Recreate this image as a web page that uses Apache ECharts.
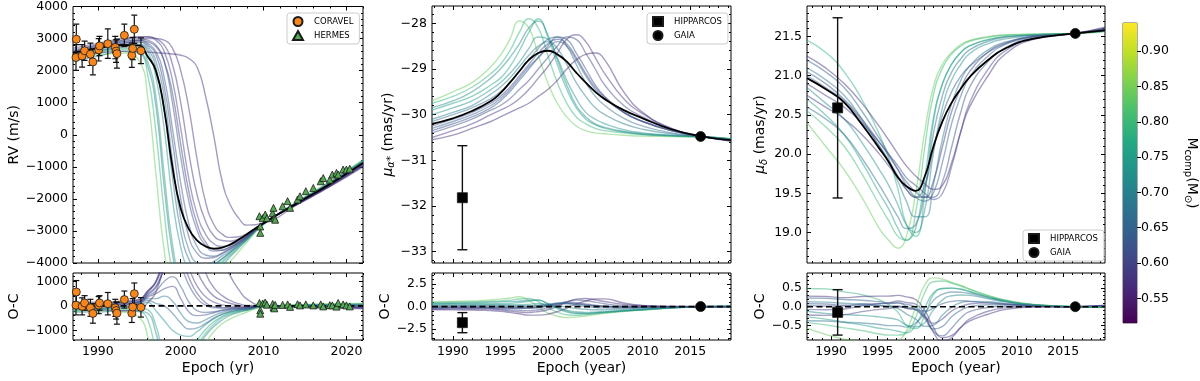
<!DOCTYPE html>
<html>
<head>
<meta charset="utf-8">
<title>RV and proper motion orbit fit</title>
<script src="https://cdn.jsdelivr.net/npm/echarts@6/dist/echarts.min.js"></script>
<style>
  html, body { margin: 0; background: #fff; }
  #chart { width: 1200px; height: 381px; }
</style>
</head>
<body>
<div id="chart"></div>
<script>
const FONT = "DejaVu Sans";

// ---- colour scale of companion mass
const MASS_MIN = 0.515;
const MASS_MAX = 0.94;
const CB_TICKS = [0.55, 0.6, 0.65, 0.7, 0.75, 0.8, 0.85, 0.9];

// ---- radial velocity panel
const RV_EPOCHS = [1987, 1990, 1993, 1995, 1996, 1997, 1998, 1999, 2000, 2001, 2002, 2003, 2004, 2005, 2006, 2007, 2008, 2010, 2014, 2018, 2022];
const RV_BEST = [2550, 2700, 2800, 2780, 2450, 2000, 800, -1000, -2300, -2950, -3300, -3480, -3550, -3520, -3420, -3270, -3100, -2760, -2140, -1540, -880];
const RV_MASS = [0.84, 0.79, 0.76, 0.73, 0.70, 0.68, 0.66, 0.64, 0.62, 0.61, 0.60, 0.59, 0.58, 0.57, 0.58];
const RV_MODELS = [
  [2350, 2500, 2550, 2300, 1200, -1200, -3600, -4900, -5500, -5600, -5400, -5000, -4600, -4250, -3950, -3650, -3350, -2800, -2100, -1450, -780],
  [2400, 2550, 2650, 2550, 1900, 100, -2400, -4300, -5000, -5100, -4900, -4600, -4300, -4000, -3750, -3500, -3280, -2790, -2110, -1480, -800],
  [2350, 2550, 2700, 2700, 2300, 1200, -1200, -3400, -4500, -4800, -4700, -4450, -4200, -3950, -3700, -3480, -3260, -2780, -2120, -1500, -820],
  [2450, 2600, 2750, 2800, 2600, 1800, 200, -2000, -3500, -4200, -4350, -4250, -4080, -3870, -3660, -3450, -3240, -2770, -2130, -1510, -840],
  [2300, 2450, 2600, 2550, 2150, 900, -1600, -3700, -4800, -5100, -5000, -4700, -4400, -4100, -3800, -3540, -3280, -2780, -2110, -1490, -810],
  [2500, 2650, 2800, 2880, 2750, 2300, 1200, -800, -2600, -3600, -4000, -4050, -3950, -3780, -3600, -3410, -3210, -2760, -2140, -1530, -860],
  [2400, 2600, 2750, 2820, 2680, 2100, 800, -1300, -3000, -3900, -4200, -4200, -4050, -3860, -3650, -3440, -3230, -2770, -2130, -1520, -850],
  [2600, 2750, 2900, 2950, 2850, 2600, 1800, 200, -1500, -2800, -3500, -3750, -3790, -3690, -3540, -3370, -3180, -2760, -2150, -1550, -890],
  [2650, 2800, 2950, 3000, 2950, 2800, 2300, 1000, -700, -2100, -3000, -3450, -3630, -3600, -3490, -3340, -3160, -2750, -2160, -1570, -920],
  [2550, 2700, 2850, 2900, 2800, 2500, 1500, -200, -2000, -3200, -3700, -3850, -3830, -3710, -3560, -3390, -3200, -2760, -2150, -1560, -900],
  [2600, 2800, 2950, 3050, 3050, 2950, 2600, 1700, 200, -1400, -2500, -3100, -3400, -3480, -3430, -3310, -3150, -2750, -2170, -1590, -950],
  [2600, 2750, 2900, 2950, 2900, 2750, 2300, 1300, -300, -1800, -2800, -3350, -3580, -3600, -3500, -3350, -3170, -2750, -2160, -1580, -930],
  [2700, 2850, 3000, 3050, 3060, 3000, 2800, 2200, 1000, -600, -1900, -2700, -3150, -3300, -3320, -3250, -3120, -2750, -2180, -1600, -970],
  [2500, 2550, 2600, 2600, 2580, 2560, 2540, 2520, 2480, 2380, 2100, 1200, -50, -1450, -2200, -2600, -2820, -2760, -2190, -1620, -1000],
  [2550, 2700, 2850, 2950, 3000, 3000, 2950, 2700, 2000, 800, -800, -2100, -2800, -3100, -3200, -3180, -3080, -2750, -2170, -1600, -960]
];
const CORAVEL_EPOCH = [1987.36, 1987.4, 1988.1, 1988.4, 1989.1, 1989.4, 1990.1, 1990.2, 1991.2, 1992.1, 1992.2, 1992.3, 1993.2, 1994.1, 1994.2, 1994.4, 1995.2];
const CORAVEL_RV = [2410, 2980, 2460, 2620, 2510, 2270, 2650, 2770, 2840, 2720, 2610, 2530, 3100, 2480, 2690, 3290, 2620];
const CORAVEL_ERR = [400, 470, 350, 300, 350, 400, 350, 300, 460, 350, 350, 450, 350, 380, 350, 440, 400];
const CORAVEL_OC = [30, 570, -20, 120, -80, -310, 30, 120, 90, -80, -190, -300, 260, -300, -50, 500, -60];
const HERMES_EPOCH = [2009.5, 2009.6, 2009.6, 2009.9, 2010.2, 2010.4, 2011.1, 2011.2, 2011.3, 2011.4, 2012.3, 2012.9, 2013.2, 2014.1, 2014.4, 2015.1, 2016.0, 2016.9, 2017.2, 2018.0, 2018.3, 2018.8, 2019.0, 2019.6, 2020.0, 2020.4];
const HERMES_RV = [-2540, -2860, -3060, -2600, -2490, -2600, -2440, -2280, -2600, -2650, -2230, -2070, -2280, -2020, -1920, -1760, -1660, -1450, -1350, -1400, -1240, -1190, -1240, -1085, -1085, -1060];
const HERMES_OC = [120, -180, -320, 100, 140, 50, 80, -60, -100, 40, 40, 60, -40, 70, 20, 60, 20, 60, -20, 30, 20, -30, 120, 60, 20, -20];

// ---- proper motion in right ascension
const PMRA_EPOCHS = [1987.8, 1990, 1992, 1994, 1995, 1996, 1997, 1998, 1999, 2000, 2001, 2002, 2003, 2004, 2005, 2006, 2008, 2010, 2013, 2016, 2019.3];
const PMRA_BEST = [-30.2, -30.08, -29.92, -29.7, -29.53, -29.3, -29.05, -28.8, -28.65, -28.6, -28.68, -28.84, -29.08, -29.3, -29.5, -29.66, -29.9, -30.08, -30.32, -30.47, -30.56];
const PMRA_MASS = [0.84, 0.79, 0.76, 0.73, 0.69, 0.65, 0.61, 0.58, 0.57, 0.62, 0.71, 0.60, 0.67];
const PMRA_MODELS = [
  [-29.7, -29.5, -29.3, -28.95, -28.7, -28.35, -27.95, -28.1, -28.7, -29.3, -29.75, -30.05, -30.25, -30.35, -30.4, -30.42, -30.45, -30.47, -30.48, -30.49, -30.52],
  [-29.75, -29.6, -29.4, -29.1, -28.9, -28.6, -28.2, -27.9, -28.1, -28.7, -29.3, -29.75, -30.05, -30.2, -30.3, -30.35, -30.4, -30.44, -30.47, -30.49, -30.53],
  [-29.9, -29.75, -29.6, -29.35, -29.2, -28.95, -28.6, -28.2, -27.9, -28.3, -28.9, -29.45, -29.85, -30.1, -30.22, -30.3, -30.38, -30.43, -30.46, -30.48, -30.53],
  [-30.0, -29.85, -29.7, -29.45, -29.3, -29.1, -28.85, -28.55, -28.3, -28.35, -28.75, -29.25, -29.65, -29.95, -30.1, -30.2, -30.33, -30.4, -30.45, -30.48, -30.54],
  [-30.1, -29.95, -29.8, -29.55, -29.4, -29.2, -28.95, -28.7, -28.5, -28.4, -28.55, -28.9, -29.3, -29.6, -29.85, -30.0, -30.2, -30.32, -30.42, -30.48, -30.55],
  [-30.3, -30.15, -30.0, -29.8, -29.65, -29.45, -29.2, -28.95, -28.75, -28.55, -28.4, -28.5, -28.8, -29.15, -29.45, -29.65, -29.95, -30.15, -30.35, -30.47, -30.56],
  [-30.4, -30.25, -30.1, -29.9, -29.8, -29.65, -29.45, -29.25, -29.0, -28.75, -28.5, -28.3, -28.35, -28.65, -29.0, -29.35, -29.8, -30.05, -30.32, -30.47, -30.57],
  [-30.5, -30.35, -30.2, -30.0, -29.9, -29.8, -29.65, -29.45, -29.2, -28.95, -28.65, -28.35, -28.25, -28.4, -28.75, -29.1, -29.65, -29.98, -30.3, -30.46, -30.58],
  [-30.55, -30.45, -30.3, -30.15, -30.05, -29.95, -29.85, -29.75, -29.6, -29.45, -29.25, -29.0, -28.8, -28.68, -28.65, -28.8, -29.5, -29.95, -30.3, -30.47, -30.58],
  [-30.35, -30.2, -30.05, -29.85, -29.7, -29.5, -29.25, -29.0, -28.75, -28.5, -28.3, -28.35, -28.65, -29.0, -29.35, -29.6, -29.95, -30.15, -30.35, -30.47, -30.56],
  [-29.85, -29.7, -29.5, -29.2, -29.0, -28.75, -28.45, -28.1, -27.95, -28.25, -28.8, -29.35, -29.8, -30.05, -30.2, -30.28, -30.37, -30.42, -30.46, -30.48, -30.53],
  [-30.25, -30.1, -29.95, -29.75, -29.6, -29.4, -29.15, -28.9, -28.65, -28.45, -28.35, -28.45, -28.75, -29.1, -29.4, -29.62, -29.95, -30.15, -30.35, -30.47, -30.57],
  [-30.15, -30.0, -29.85, -29.65, -29.5, -29.3, -29.05, -28.8, -28.55, -28.35, -28.3, -28.5, -28.9, -29.3, -29.6, -29.8, -30.08, -30.25, -30.4, -30.48, -30.55]
];
const PMRA_HIP = [1991.0, -31.82, 1.14];
const PMRA_HIP_OC = [1991.0, -1.79, 1.12];
const PMRA_GAIA = [2016.1, -30.48];
const PMRA_GAIA_OC = [2016.1, 0];

// ---- proper motion in declination
const PMDEC_EPOCHS = [1987.4, 1989.4, 1991.4, 1993.3, 1995.2, 1996.2, 1997.2, 1998.1, 1999.1, 2000.1, 2001.0, 2002.0, 2003.0, 2004.0, 2004.9, 2006.9, 2008.8, 2011.7, 2016.3, 2019.5];
const PMDEC_BEST = [20.97, 20.83, 20.66, 20.38, 20.07, 19.9, 19.7, 19.59, 19.53, 19.72, 20.09, 20.42, 20.66, 20.84, 20.98, 21.2, 21.35, 21.47, 21.54, 21.58];
const PMDEC_MASS = [0.84, 0.78, 0.75, 0.72, 0.69, 0.65, 0.62, 0.60, 0.57, 0.59, 0.67, 0.63, 0.80];
const PMDEC_MODELS = [
  [20.4, 20.1, 19.8, 19.45, 19.05, 18.9, 18.8, 18.95, 19.5, 20.3, 20.85, 21.15, 21.3, 21.4, 21.45, 21.5, 21.52, 21.53, 21.54, 21.56],
  [21.45, 21.3, 21.05, 20.7, 20.25, 19.95, 19.55, 19.1, 18.95, 19.5, 20.4, 20.9, 21.15, 21.3, 21.38, 21.46, 21.5, 21.52, 21.54, 21.58],
  [20.7, 20.5, 20.25, 19.9, 19.5, 19.3, 19.05, 18.9, 19.05, 19.7, 20.45, 20.9, 21.15, 21.3, 21.38, 21.46, 21.5, 21.52, 21.54, 21.57],
  [20.85, 20.65, 20.45, 20.15, 19.8, 19.6, 19.35, 19.1, 19.0, 19.3, 20.0, 20.6, 20.95, 21.15, 21.28, 21.41, 21.47, 21.51, 21.54, 21.58],
  [21.1, 20.95, 20.75, 20.45, 20.1, 19.9, 19.65, 19.4, 19.2, 19.2, 19.6, 20.2, 20.65, 20.95, 21.12, 21.33, 21.43, 21.5, 21.54, 21.58],
  [21.2, 21.05, 20.85, 20.55, 20.2, 20.0, 19.8, 19.6, 19.45, 19.4, 19.5, 19.9, 20.4, 20.75, 20.98, 21.25, 21.4, 21.49, 21.54, 21.6],
  [21.05, 20.9, 20.7, 20.45, 20.15, 19.98, 19.8, 19.65, 19.52, 19.45, 19.45, 19.65, 20.1, 20.55, 20.85, 21.18, 21.36, 21.48, 21.54, 21.6],
  [20.9, 20.75, 20.6, 20.4, 20.15, 20.0, 19.85, 19.7, 19.6, 19.5, 19.42, 19.5, 19.85, 20.3, 20.65, 21.08, 21.32, 21.47, 21.54, 21.61],
  [21.25, 21.1, 20.9, 20.65, 20.35, 20.18, 20.0, 19.85, 19.72, 19.62, 19.55, 19.6, 19.9, 20.3, 20.6, 21.0, 21.28, 21.46, 21.54, 21.62],
  [20.75, 20.6, 20.45, 20.25, 20.0, 19.85, 19.7, 19.55, 19.45, 19.45, 19.65, 20.1, 20.55, 20.85, 21.05, 21.3, 21.42, 21.5, 21.54, 21.59],
  [20.6, 20.45, 20.25, 19.95, 19.6, 19.4, 19.2, 19.05, 19.1, 19.55, 20.25, 20.75, 21.05, 21.22, 21.33, 21.44, 21.49, 21.52, 21.54, 21.57],
  [21.0, 20.85, 20.68, 20.42, 20.1, 19.92, 19.72, 19.55, 19.45, 19.6, 20.05, 20.5, 20.8, 21.0, 21.12, 21.3, 21.41, 21.5, 21.54, 21.59],
  [20.55, 20.35, 20.1, 19.75, 19.35, 19.15, 18.95, 18.9, 19.25, 20.1, 20.75, 21.1, 21.28, 21.38, 21.44, 21.49, 21.52, 21.53, 21.54, 21.57]
];
const PMDEC_HIP = [1990.7, 20.59, 1.15];
const PMDEC_HIP_OC = [1990.7, -0.15, 0.6];
const PMDEC_GAIA = [2016.3, 21.54];
const PMDEC_GAIA_OC = [2016.3, 0];

// ---- helpers
const VIRIDIS = ["#440154", "#482475", "#414487", "#355f8d", "#2a788e", "#21918c", "#22a884", "#44bf70", "#7ad151", "#bddf26", "#fde725"];

function hexToRgb(hex) {
  return [1, 3, 5].map((i) => parseInt(hex.slice(i, i + 2), 16));
}

function massColor(mass, alpha) {
  const t = Math.min(1, Math.max(0, (mass - MASS_MIN) / (MASS_MAX - MASS_MIN)));
  const pos = t * (VIRIDIS.length - 1);
  const i = Math.min(Math.floor(pos), VIRIDIS.length - 2);
  const f = pos - i;
  const a = hexToRgb(VIRIDIS[i]);
  const b = hexToRgb(VIRIDIS[i + 1]);
  const c = a.map((v, k) => Math.round(v + (b[k] - v) * f));
  return `rgba(${c[0]},${c[1]},${c[2]},${alpha})`;
}

function ticksBetween(min, max, step) {
  const out = [];
  const start = Math.ceil(min / step - 1e-9);
  const end = Math.floor(max / step + 1e-9);
  for (let k = start; k <= end; k++) {
    out.push(+(k * step).toFixed(6));
  }
  return out;
}

function formatter(decimals) {
  return (value) => Number(value).toFixed(decimals).replace("-", "\u2212");
}

const grids = [];
const xAxes = [];
const yAxes = [];
const series = [];

const nameRich = {
  i: { fontFamily: FONT, fontSize: 14, fontStyle: "italic", color: "#000" },
  s: { fontFamily: FONT, fontSize: 10, fontStyle: "italic", color: "#000", padding: [7, 0, 0, 0] },
  r: { fontFamily: FONT, fontSize: 10, color: "#000", padding: [7, 0, 0, 0] },
  b: { fontFamily: FONT, fontSize: 14, color: "#000" },
};

// four overlapping axes per direction: major and minor ticks on both sides, labels on the first
function addAxes(list, dim, gridIndex, spec) {
  const sides = dim === "x" ? ["bottom", "top"] : ["left", "right"];
  const primary = list.length;
  const minors = ticksBetween(spec.min, spec.max, spec.minorStep)
    .filter((v) => !spec.majors.some((m) => Math.abs(m - v) < 1e-6));
  sides.forEach((position, side) => {
    [[spec.majors, 4], [minors, 2]].forEach(([values, length], kind) => {
      const first = side === 0 && kind === 0;
      const axis = {
        type: "value",
        gridIndex,
        position,
        min: spec.min,
        max: spec.max,
        axisLine: { show: false, onZero: false },
        splitLine: { show: false },
        axisTick: {
          show: values.length > 0,
          inside: true,
          length,
          customValues: values,
          lineStyle: { color: "#000", width: 1 },
        },
        axisLabel: { show: false },
        silent: true,
      };
      if (first && spec.labels) {
        axis.axisLabel = {
          show: true,
          customValues: spec.majors,
          formatter: formatter(spec.decimals),
          color: "#000",
          fontFamily: FONT,
          fontSize: 12.5,
          margin: 5,
        };
      }
      if (first && spec.name) {
        axis.name = spec.name;
        axis.nameLocation = "middle";
        axis.nameGap = spec.nameGap;
        axis.nameTextStyle = { fontFamily: FONT, fontSize: 14, color: "#000", rich: nameRich };
      }
      list.push(axis);
    });
  });
  return primary;
}

function addGrid(box, xSpec, ySpec) {
  const gridIndex = grids.length;
  grids.push(Object.assign({ show: true, borderColor: "#000", borderWidth: 1, backgroundColor: "transparent" }, box));
  return {
    xi: addAxes(xAxes, "x", gridIndex, xSpec),
    yi: addAxes(yAxes, "y", gridIndex, ySpec),
  };
}

function curve(axes, epochs, values, color, width, z, extra) {
  return Object.assign({
    type: "line",
    xAxisIndex: axes.xi,
    yAxisIndex: axes.yi,
    data: epochs.map((e, i) => [e, values[i]]),
    symbol: "none",
    showSymbol: false,
    smooth: 0.5,
    lineStyle: { color, width },
    silent: true,
    animation: false,
    z,
  }, extra || {});
}

function errorBars(axes, data, cap, width) {
  return {
    type: "custom",
    xAxisIndex: axes.xi,
    yAxisIndex: axes.yi,
    data,
    encode: { x: 0, y: 1 },
    silent: true,
    animation: false,
    clip: true,
    z: 4,
    renderItem(params, api) {
      const x = api.value(0);
      const y = api.value(1);
      const e = api.value(2);
      const hi = api.coord([x, y + e]);
      const lo = api.coord([x, y - e]);
      const style = { stroke: "#111", lineWidth: width };
      return {
        type: "group",
        children: [
          { type: "line", shape: { x1: hi[0], y1: hi[1], x2: lo[0], y2: lo[1] }, style },
          { type: "line", shape: { x1: hi[0] - cap, y1: hi[1], x2: hi[0] + cap, y2: hi[1] }, style },
          { type: "line", shape: { x1: lo[0] - cap, y1: lo[1], x2: lo[0] + cap, y2: lo[1] }, style },
        ],
      };
    },
  };
}

function points(axes, name, data, symbol, size, color, z) {
  return {
    type: "scatter",
    name,
    xAxisIndex: axes.xi,
    yAxisIndex: axes.yi,
    data,
    symbol,
    symbolSize: size,
    itemStyle: { color, borderColor: "#1a1a1a", borderWidth: 0.8, opacity: 1 },
    silent: true,
    animation: false,
    z: z || 5,
  };
}

function modelPanel(main, resid, epochs, best, masses, models) {
  models.forEach((values, k) => {
    const color = massColor(masses[k], 0.48);
    series.push(curve(main, epochs, values, color, 1.4, 2));
    series.push(curve(resid, epochs, values.map((v, i) => v - best[i]), color, 1.4, 2));
  });
  series.push(curve(main, epochs, best, "#000", 1.8, 3));
  series.push(curve(resid, epochs, best.map((v) => v - v), "#000", 1.6, 3, {
    smooth: false,
    lineStyle: { color: "#000", width: 1.6, type: [6, 3.5] },
  }));
}

const MAIN_BOX = { top: 6, height: 257 };
const RESID_BOX = { top: 273, height: 67 };

// ---- panel 1: RV
const rvX = { min: 1987, max: 2022, majors: [1990, 2000, 2010, 2020], minorStep: 2, decimals: 0 };
const rvMain = addGrid(Object.assign({ left: 73, width: 290 }, MAIN_BOX), rvX,
  { min: -4000, max: 4000, majors: [-4000, -3000, -2000, -1000, 0, 1000, 2000, 3000, 4000], minorStep: 200,
    decimals: 0, labels: true, name: "RV (m/s)", nameGap: 46 });
const rvResid = addGrid(Object.assign({ left: 73, width: 290 }, RESID_BOX),
  Object.assign({ labels: true, name: "Epoch (yr)", nameGap: 21 }, rvX),
  { min: -1400, max: 1350, majors: [-1000, 0, 1000], minorStep: 200, decimals: 0, labels: true, name: "O-C", nameGap: 46 });

modelPanel(rvMain, rvResid, RV_EPOCHS, RV_BEST, RV_MASS, RV_MODELS);
series.push(errorBars(rvMain, CORAVEL_EPOCH.map((e, i) => [e, CORAVEL_RV[i], CORAVEL_ERR[i]]), 3, 1.2));
series.push(errorBars(rvResid, CORAVEL_EPOCH.map((e, i) => [e, CORAVEL_OC[i], CORAVEL_ERR[i]]), 3, 1.2));
series.push(points(rvMain, "CORAVEL", CORAVEL_EPOCH.map((e, i) => [e, CORAVEL_RV[i]]), "circle", 8, "#f7861c"));
series.push(points(rvResid, "", CORAVEL_EPOCH.map((e, i) => [e, CORAVEL_OC[i]]), "circle", 8, "#f7861c"));
series.push(points(rvMain, "HERMES", HERMES_EPOCH.map((e, i) => [e, HERMES_RV[i]]), "triangle", 7, "#55a955"));
series.push(points(rvResid, "", HERMES_EPOCH.map((e, i) => [e, HERMES_OC[i]]), "triangle", 7, "#55a955"));

// ---- panel 2: proper motion in RA
const raX = { min: 1987.8, max: 2019.3, majors: [1990, 1995, 2000, 2005, 2010, 2015], minorStep: 1, decimals: 0 };
const raMain = addGrid(Object.assign({ left: 432, width: 299 }, MAIN_BOX), raX,
  { min: -33.25, max: -27.62, majors: [-33, -32, -31, -30, -29, -28], minorStep: 0.2, decimals: 0,
    labels: true, name: "{i|\u03bc}{s|\u03b1*}{b| (mas/yr)}", nameGap: 33 });
const raResid = addGrid(Object.assign({ left: 432, width: 299 }, RESID_BOX),
  Object.assign({ labels: true, name: "Epoch (year)", nameGap: 21 }, raX),
  { min: -3.72, max: 3.74, majors: [-2.5, 0, 2.5], minorStep: 0.5, decimals: 1, labels: true, name: "O-C", nameGap: 38 });

modelPanel(raMain, raResid, PMRA_EPOCHS, PMRA_BEST, PMRA_MASS, PMRA_MODELS);
series.push(errorBars(raMain, [PMRA_HIP], 5, 1.4));
series.push(errorBars(raResid, [PMRA_HIP_OC], 5, 1.4));
series.push(points(raMain, "HIPPARCOS", [PMRA_HIP.slice(0, 2)], "rect", 10, "#000"));
series.push(points(raResid, "", [PMRA_HIP_OC.slice(0, 2)], "rect", 10, "#000"));
series.push(points(raMain, "GAIA", [PMRA_GAIA], "circle", 10, "#000"));
series.push(points(raResid, "", [PMRA_GAIA_OC], "circle", 10, "#000"));

// ---- panel 3: proper motion in Dec
const decX = { min: 1987.4, max: 2019.5, majors: [1990, 1995, 2000, 2005, 2010, 2015], minorStep: 1, decimals: 0 };
const decMain = addGrid(Object.assign({ left: 807, width: 298 }, MAIN_BOX), decX,
  { min: 18.61, max: 21.89, majors: [19, 19.5, 20, 20.5, 21, 21.5], minorStep: 0.1, decimals: 1,
    labels: true, name: "{i|\u03bc}{s|\u03b4}{b| (mas/yr)}", nameGap: 38 });
const decResid = addGrid(Object.assign({ left: 807, width: 298 }, RESID_BOX),
  Object.assign({ labels: true, name: "Epoch (year)", nameGap: 21 }, decX),
  { min: -0.88, max: 0.89, majors: [-0.5, 0, 0.5], minorStep: 0.1, decimals: 1, labels: true, name: "O-C", nameGap: 40 });

modelPanel(decMain, decResid, PMDEC_EPOCHS, PMDEC_BEST, PMDEC_MASS, PMDEC_MODELS);
series.push(errorBars(decMain, [PMDEC_HIP], 5, 1.4));
series.push(errorBars(decResid, [PMDEC_HIP_OC], 5, 1.4));
series.push(points(decMain, "HIPPARCOS", [PMDEC_HIP.slice(0, 2)], "rect", 10, "#000"));
series.push(points(decResid, "", [PMDEC_HIP_OC.slice(0, 2)], "rect", 10, "#000"));
series.push(points(decMain, "GAIA", [PMDEC_GAIA], "circle", 10, "#000"));
series.push(points(decResid, "", [PMDEC_GAIA_OC], "circle", 10, "#000"));

// ---- colour bar
const cbGrid = grids.length;
grids.push({ left: 1123, top: 23, width: 14, height: 300, show: true, borderColor: "#333", borderWidth: 0.8 });
const cbX = xAxes.length;
xAxes.push({ type: "category", gridIndex: cbGrid, data: ["mass"], show: false });
const cbY = yAxes.length;
yAxes.push({
  type: "value",
  gridIndex: cbGrid,
  position: "right",
  min: MASS_MIN,
  max: MASS_MAX,
  axisLine: { show: false, onZero: false },
  splitLine: { show: false },
  axisTick: { show: true, inside: false, length: 4, customValues: CB_TICKS, lineStyle: { color: "#000" } },
  axisLabel: { customValues: CB_TICKS, formatter: formatter(2), color: "#000", fontFamily: FONT, fontSize: 12.5, margin: 4 },
  name: "{b|M}{r|comp}{b|(M}{r|\u2299}{b|)}",
  nameLocation: "middle",
  nameRotate: -90,
  nameGap: 46,
  nameTextStyle: { rich: nameRich },
});
series.push({
  type: "bar", stack: "cb", xAxisIndex: cbX, yAxisIndex: cbY, barWidth: "100%",
  data: [MASS_MIN], itemStyle: { color: "rgba(0,0,0,0)" }, silent: true, animation: false,
});
series.push({
  type: "bar", stack: "cb", xAxisIndex: cbX, yAxisIndex: cbY, barWidth: "100%",
  data: [MASS_MAX - MASS_MIN], silent: true, animation: false,
  itemStyle: {
    color: {
      type: "linear", x: 0, y: 0, x2: 0, y2: 1,
      colorStops: VIRIDIS.slice().reverse().map((c, i) => ({ offset: i / (VIRIDIS.length - 1), color: c })),
    },
  },
});

const legendBase = {
  orient: "vertical",
  backgroundColor: "#fff",
  borderColor: "#cccccc",
  borderWidth: 1,
  borderRadius: 3,
  padding: [3, 6, 3, 5],
  itemWidth: 10,
  itemHeight: 9,
  itemGap: 3,
  selectedMode: false,
  textStyle: { fontFamily: FONT, fontSize: 8.5, color: "#000", padding: [0, 0, 0, 6] },
};

const chart = echarts.init(document.getElementById("chart"), null, { renderer: "canvas" });
chart.setOption({
  animation: false,
  backgroundColor: "#fff",
  grid: grids,
  xAxis: xAxes,
  yAxis: yAxes,
  legend: [
    Object.assign({ data: ["CORAVEL", "HERMES"], left: 287, top: 13 }, legendBase),
    Object.assign({ data: ["HIPPARCOS", "GAIA"], left: 647, top: 13 }, legendBase),
    Object.assign({ data: ["HIPPARCOS", "GAIA"], left: 1023, top: 230 }, legendBase),
  ],
  series,
});
</script>
</body>
</html>
